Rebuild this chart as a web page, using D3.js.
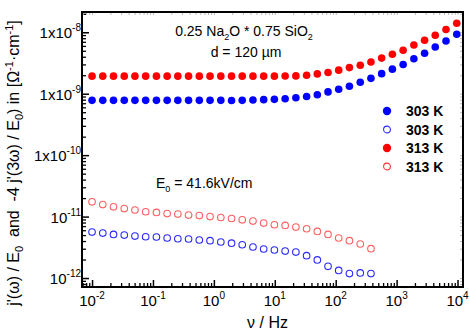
<!DOCTYPE html>
<html>
<head>
<meta charset="utf-8">
<script src="https://cdn.jsdelivr.net/npm/d3@7"></script>
<style>
  body { margin: 0; background: #fff; }
  text { font-family: "Liberation Sans", Arial, Helvetica, sans-serif; }
</style>
</head>
<body>
<div id="chart"></div>
<script>
// frequencies (Hz)
const freq = [0.01, 0.015, 0.0225, 0.0338, 0.0506, 0.0759, 0.114, 0.171, 0.256, 0.384,
    0.577, 0.865, 1.30, 1.95, 2.92, 4.38, 6.57, 9.85, 14.8, 22.2,
    33.3, 49.9, 74.8, 112, 168, 253, 379, 568, 852, 1280,
    1920, 2880, 4310, 6470, 9710]

// j'(w)/E0, filled symbols
const j1_303 = [7.8e-10, 7.8e-10, 7.8e-10, 7.8e-10, 7.8e-10, 7.8e-10, 7.8e-10, 7.8e-10, 7.8e-10, 7.8e-10,
    7.8e-10, 7.8e-10, 7.8e-10, 7.75e-10, 7.8e-10, 7.9e-10, 8.0e-10, 8.1e-10, 8.3e-10, 8.6e-10,
    9.0e-10, 9.6e-10, 1.07e-9, 1.18e-9, 1.32e-9, 1.54e-9, 1.78e-9, 2.12e-9, 2.51e-9, 2.99e-9,
    3.70e-9, 4.56e-9, 5.77e-9, 7.23e-9, 9.29e-9]
const j1_313 = [1.93e-9, 1.93e-9, 1.93e-9, 1.93e-9, 1.93e-9, 1.93e-9, 1.93e-9, 1.93e-9, 1.93e-9, 1.93e-9,
    1.93e-9, 1.93e-9, 1.93e-9, 1.93e-9, 1.93e-9, 1.93e-9, 1.93e-9, 1.93e-9, 1.94e-9, 1.95e-9,
    2.00e-9, 2.10e-9, 2.22e-9, 2.42e-9, 2.66e-9, 2.90e-9, 3.28e-9, 3.80e-9, 4.40e-9, 5.11e-9,
    6.22e-9, 7.41e-9, 8.93e-9, 1.11e-8, 1.40e-8]

// -4 j'(3w)/E0, open symbols (up to ~380 Hz)
const j3_303 = [5.60e-12, 5.39e-12, 5.12e-12, 5.01e-12, 4.82e-12, 4.70e-12, 4.65e-12, 4.48e-12, 4.36e-12, 4.32e-12,
    4.16e-12, 4.05e-12, 3.86e-12, 3.69e-12, 3.48e-12, 3.20e-12, 2.97e-12, 2.86e-12, 2.75e-12, 2.65e-12,
    2.31e-12, 1.97e-12, 1.55e-12, 1.33e-12, 1.18e-12, 1.21e-12, 1.18e-12]
const j3_313 = [1.74e-11, 1.57e-11, 1.44e-11, 1.35e-11, 1.28e-11, 1.20e-11, 1.17e-11, 1.12e-11, 1.10e-11, 1.06e-11,
    1.04e-11, 1.00e-11, 9.67e-12, 9.31e-12, 8.87e-12, 8.45e-12, 7.84e-12, 7.36e-12, 7.17e-12, 6.76e-12,
    6.34e-12, 5.73e-12, 5.12e-12, 4.48e-12, 4.05e-12, 3.58e-12, 3.00e-12]

const legendLabels = ['303 K', '303 K', '313 K', '313 K']
const xMajor = [-2, -1, 0, 1, 2, 3, 4]
const yMajor = [-8, -9, -10, -11, -12]

let dimensions = {
    width: 469,
    height: 330,
    margin: { top: 12, bottom: 43, left: 82, right: 6 }
}

const svg = d3.select('#chart')
    .append('svg')
    .attr('width', dimensions.width)
    .attr('height', dimensions.height)

const w = dimensions.width - dimensions.margin.left - dimensions.margin.right
const h = dimensions.height - dimensions.margin.top - dimensions.margin.bottom

const container = svg.append('g')
    .attr('transform', `translate(${dimensions.margin.left},${dimensions.margin.top})`)

const xScale = d3.scaleLog()
    .domain([Math.pow(10, -2.165), Math.pow(10, 4.09)])
    .range([0, w])

const yScale = d3.scaleLog()
    .domain([Math.pow(10, -12.146), Math.pow(10, -7.67)])
    .range([h, 0])

// tick positions: decades and 2..9 in between
function logTicks(scale) {
    const [a, b] = scale.domain()
    const major = [], minor = []
    for (let e = Math.floor(Math.log10(a)); e <= Math.ceil(Math.log10(b)); e++) {
        for (let m = 1; m <= 9; m++) {
            const v = m * Math.pow(10, e)
            if (v < a || v > b) continue
            if (m === 1) major.push(v)
            else minor.push(v)
        }
    }
    return { major, minor }
}
const xt = logTicks(xScale)
const yt = logTicks(yScale)

function tickAxis(axisFn, scale, values, size, transform, color, width) {
    const g = container.append('g')
        .attr('transform', transform)
        .call(axisFn(scale).tickValues(values).tickSize(size).tickFormat(''))
    g.select('.domain').remove()
    g.selectAll('line').attr('stroke', color).attr('stroke-width', width)
}

// bottom and left ticks (inward)
tickAxis(d3.axisBottom, xScale, xt.major, -7, `translate(0,${h})`, '#000', 1.5)
tickAxis(d3.axisBottom, xScale, xt.minor, -4, `translate(0,${h})`, '#000', 1.3)
tickAxis(d3.axisLeft, yScale, yt.major, -7, 'translate(0,0)', '#000', 1.5)
tickAxis(d3.axisLeft, yScale, yt.minor, -4, 'translate(0,0)', '#000', 1.3)
// faint top and right ticks
tickAxis(d3.axisTop, xScale, xt.major.concat(xt.minor), -3, 'translate(0,0)', '#bbb', 1)
tickAxis(d3.axisRight, yScale, yt.major.concat(yt.minor), -3, `translate(${w},0)`, '#bbb', 1)

// frame
container.append('rect')
    .attr('width', w)
    .attr('height', h)
    .attr('fill', 'none')
    .attr('stroke', '#000')
    .attr('stroke-width', 2)

// x tick labels
xMajor.forEach(e => {
    const t = container.append('text')
        .attr('x', xScale(Math.pow(10, e)))
        .attr('y', h + 19)
        .attr('text-anchor', 'middle')
        .attr('font-size', '15px')
    t.append('tspan').text('10')
    t.append('tspan').attr('dy', -7).attr('font-size', '10px').text(e)
})

// y tick labels
yMajor.forEach(e => {
    const t = container.append('text')
        .attr('x', -1)
        .attr('y', yScale(Math.pow(10, e)) + 6)
        .attr('text-anchor', 'end')
        .attr('font-size', '15px')
    t.append('tspan').text(e >= -10 ? '1x10' : '10')
    t.append('tspan').attr('dy', -7).attr('font-size', '10px').text(e)
})

// axis titles
container.append('text')
    .attr('x', w / 2 - 5)
    .attr('y', h + 41)
    .attr('text-anchor', 'middle')
    .attr('font-size', '16px')
    .text('ν / Hz')

const yl = svg.append('text')
    .attr('transform', 'translate(19,163) rotate(-90)')
    .attr('text-anchor', 'middle')
    .attr('font-size', '16px')
yl.append('tspan').text('j\'(ω) / E')
yl.append('tspan').attr('dy', 4).attr('font-size', '11px').text('0')
yl.append('tspan').attr('dy', -4).text('\u00a0 and \u00a0-4 j\'(3ω) / E')
yl.append('tspan').attr('dy', 4).attr('font-size', '11px').text('0')
yl.append('tspan').attr('dy', -4).text(') in [Ω')
yl.append('tspan').attr('dy', -6).attr('font-size', '11px').text('-1')
yl.append('tspan').attr('dy', 6).text('·cm')
yl.append('tspan').attr('dy', -6).attr('font-size', '11px').text('-1')
yl.append('tspan').attr('dy', 6).text(']')

// annotations
const a1 = svg.append('text')
    .attr('x', 244)
    .attr('y', 36)
    .attr('text-anchor', 'middle')
    .attr('font-size', '14px')
a1.append('tspan').text('0.25 Na')
a1.append('tspan').attr('dy', 4).attr('font-size', '9px').text('2')
a1.append('tspan').attr('dy', -4).text('O * 0.75 SiO')
a1.append('tspan').attr('dy', 4).attr('font-size', '9px').text('2')

svg.append('text')
    .attr('x', 246)
    .attr('y', 57)
    .attr('text-anchor', 'middle')
    .attr('font-size', '14px')
    .text('d = 120 µm')

const a3 = svg.append('text')
    .attr('x', 156)
    .attr('y', 188)
    .attr('font-size', '14px')
a3.append('tspan').text('E')
a3.append('tspan').attr('dy', 4).attr('font-size', '9px').text('0')
a3.append('tspan').attr('dy', -4).text(' = 41.6kV/cm')

// data
const series = [
    { values: j1_313, fill: '#ff0000', stroke: 'none', r: 3.8 },
    { values: j1_303, fill: '#0000ff', stroke: 'none', r: 3.8 },
    { values: j3_313, fill: 'none', stroke: '#ff6060', r: 3.3 },
    { values: j3_303, fill: 'none', stroke: '#2a2aff', r: 3.3 }
]

series.forEach(s => {
    container.append('g')
        .selectAll('circle')
        .data(s.values)
        .join('circle')
        .attr('cx', (d, i) => xScale(freq[i]))
        .attr('cy', d => yScale(d))
        .attr('r', s.r)
        .attr('fill', s.fill)
        .attr('stroke', s.stroke)
        .attr('stroke-width', 1.1)
})

// legend
const legendStyle = [
    { fill: '#0000ff', stroke: 'none', r: 4.2 },
    { fill: 'none', stroke: '#2a2aff', r: 3.4 },
    { fill: '#ff0000', stroke: 'none', r: 4.2 },
    { fill: 'none', stroke: '#ff3333', r: 3.4 }
]
const legend = svg.append('g').attr('transform', 'translate(387,111)')
legendLabels.forEach((lab, i) => {
    legend.append('circle')
        .attr('cx', 0)
        .attr('cy', i * 18.5)
        .attr('r', legendStyle[i].r)
        .attr('fill', legendStyle[i].fill)
        .attr('stroke', legendStyle[i].stroke)
        .attr('stroke-width', 1.1)
    legend.append('text')
        .attr('x', 19)
        .attr('y', i * 18.5 + 5)
        .attr('font-size', '14px')
        .attr('font-weight', 'bold')
        .text(lab)
})
</script>
</body>
</html>
